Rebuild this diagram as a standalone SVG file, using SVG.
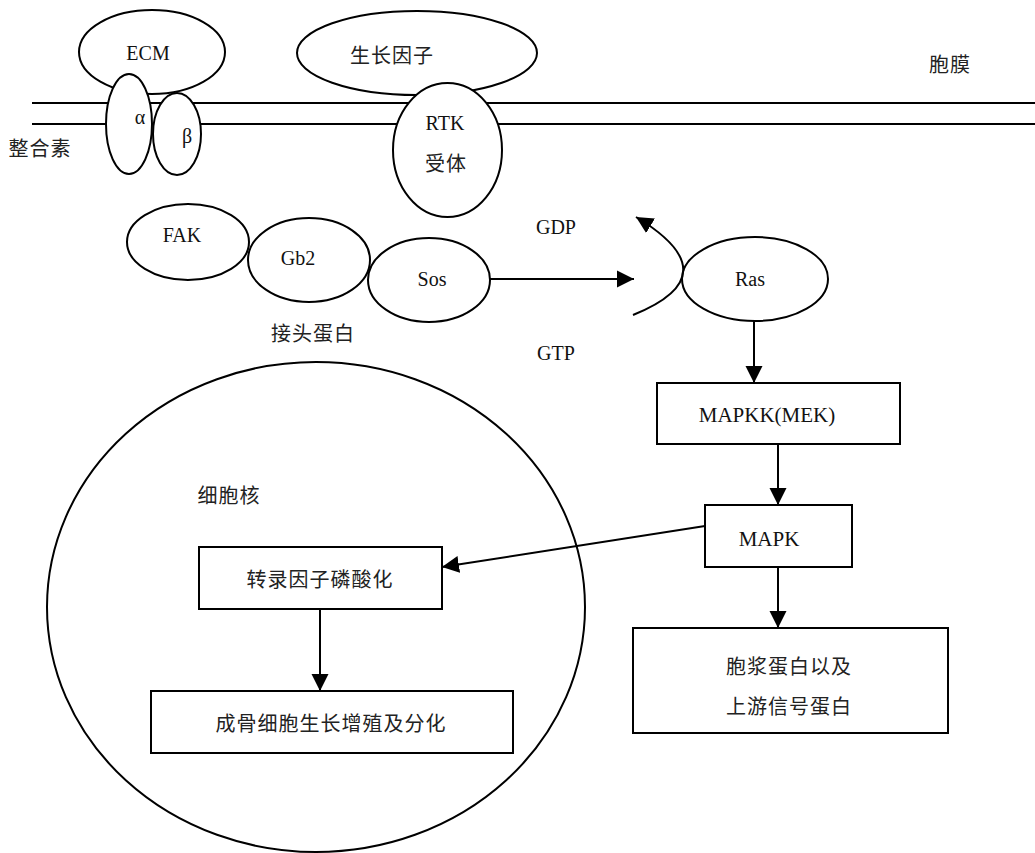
<svg xmlns="http://www.w3.org/2000/svg" width="1035" height="853" viewBox="0 0 1035 853">
<style>
.s{fill:#fff;stroke:#000;stroke-width:2}
.ln{fill:none;stroke:#000;stroke-width:2}
.t{font-family:"Liberation Serif","Times New Roman",serif;font-size:20px;fill:#111;text-anchor:middle;dominant-baseline:central}
.c{font-family:"Noto Sans CJK SC","Liberation Serif",serif;font-size:20px;fill:#222;text-anchor:middle;dominant-baseline:central;letter-spacing:1px}
</style>
<defs>
<marker id="ah" markerUnits="userSpaceOnUse" markerWidth="18" markerHeight="18" viewBox="0 0 18 18" refX="17" refY="9" orient="auto">
<path d="M0,0.5 L17,9 L0,17.5 Z" fill="#000"/>
</marker>
</defs>
<rect width="1035" height="853" fill="#fff"/>
<g id="membrane">
<line class="ln" x1="32" y1="103" x2="1035" y2="103"/>
<line class="ln" x1="32" y1="124" x2="1035" y2="124"/>
<text class="c" x="950" y="63">胞膜</text>
</g>
<g id="ecm"><ellipse class="s" cx="152" cy="52" rx="73" ry="42"/><text class="t" x="148" y="53">ECM</text></g>
<g id="beta"><ellipse class="s" cx="177" cy="134" rx="24" ry="41"/><text class="t" x="187" y="136">β</text></g>
<g id="alpha"><ellipse class="s" cx="129" cy="124" rx="23" ry="50"/><text class="t" x="140" y="117">α</text></g>
<g id="integrin"><text class="c" x="40" y="147">整合素</text></g>
<g id="gf"><ellipse class="s" cx="417" cy="53" rx="120" ry="42"/><text class="c" x="392" y="54">生长因子</text></g>
<g id="rtk"><ellipse class="s" cx="447.5" cy="150" rx="54.5" ry="67"/><text class="t" x="445" y="123">RTK</text><text class="c" x="446" y="162">受体</text></g>
<g id="fak"><ellipse class="s" cx="188" cy="242" rx="61" ry="38"/><text class="t" x="182" y="235">FAK</text></g>
<g id="gb2"><ellipse class="s" cx="309" cy="260" rx="61" ry="42"/><text class="t" x="298" y="258">Gb2</text></g>
<g id="sos"><ellipse class="s" cx="429" cy="280" rx="61" ry="42"/><text class="t" x="432" y="279">Sos</text></g>
<g id="adaptor"><text class="c" x="313" y="332">接头蛋白</text></g>
<g id="gdp"><text class="t" x="556" y="227">GDP</text></g>
<g id="gtp"><text class="t" x="556" y="353">GTP</text></g>
<g id="ras"><ellipse class="s" cx="755" cy="279" rx="73" ry="42"/><text class="t" x="750" y="279">Ras</text></g>
<g id="mapkk"><rect class="s" x="657" y="383" width="243" height="61"/><text class="t" x="767" y="415" style="font-size:21px">MAPKK(MEK)</text></g>
<g id="mapk"><rect class="s" x="705" y="505" width="147" height="62"/><text class="t" x="769" y="539" style="font-size:21px">MAPK</text></g>
<g id="cyto"><rect class="s" x="633" y="628" width="315" height="105"/><text class="c" x="789" y="665">胞浆蛋白以及</text><text class="c" x="789" y="705">上游信号蛋白</text></g>
<g id="nucleus"><ellipse class="ln" cx="316" cy="607" rx="269" ry="245"/><text class="c" x="229" y="494">细胞核</text></g>
<g id="tf"><rect class="s" x="199" y="547" width="243" height="62"/><text class="c" x="320" y="578">转录因子磷酸化</text></g>
<g id="osteo"><rect class="s" x="151" y="691" width="362" height="62"/><text class="c" x="331" y="722">成骨细胞生长增殖及分化</text></g>
<g id="connectors">
<line class="ln" x1="490" y1="279" x2="634" y2="279" marker-end="url(#ah)"/>
<path class="ln" d="M633,315 Q732,275 636,217" marker-end="url(#ah)"/>
<line class="ln" x1="754" y1="321" x2="754" y2="383" marker-end="url(#ah)"/>
<line class="ln" x1="778" y1="444" x2="778" y2="505" marker-end="url(#ah)"/>
<line class="ln" x1="778" y1="567" x2="778" y2="628" marker-end="url(#ah)"/>
<line class="ln" x1="705" y1="526" x2="442" y2="567" marker-end="url(#ah)"/>
<line class="ln" x1="320" y1="609" x2="320" y2="691" marker-end="url(#ah)"/>
</g>
</svg>
